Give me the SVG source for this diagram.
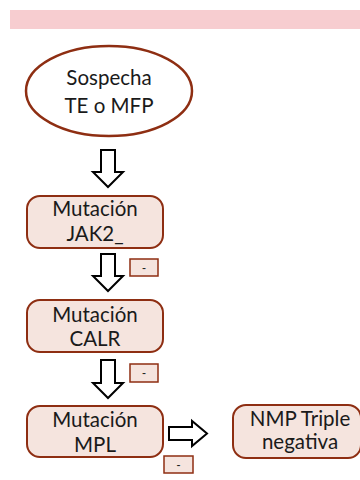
<svg xmlns="http://www.w3.org/2000/svg" width="360" height="480" viewBox="0 0 360 480">
<style>
.box{fill:#f5e4de;stroke:#8e2e12;stroke-width:2}
.tag{fill:#f5e4de;stroke:#8e2e12;stroke-width:1.5}
.t{font-family:"Lato","Liberation Sans",sans-serif;font-size:20.5px;fill:#1a1a1a;text-anchor:middle}
.s{font-family:"Liberation Sans",sans-serif;font-size:12px;fill:#222;text-anchor:middle}
.arr{fill:#fff;stroke:#000;stroke-width:2;stroke-linejoin:miter}
</style>
<rect x="10" y="10" width="350" height="19" fill="#f7cdd0"/>
<g id="n0">
<ellipse cx="109" cy="91" rx="83" ry="45" fill="#fff" stroke="#8e2e12" stroke-width="2.5"/>
<text class="t" x="109" y="85">Sospecha</text>
<text class="t" x="109" y="113">TE o MFP</text>
</g>
<g id="n1">
<rect class="box" x="27" y="196" width="136" height="52" rx="13"/>
<text class="t" x="95" y="216">Mutación</text>
<text class="t" x="95" y="241">JAK2_</text>
</g>
<g id="n2">
<rect class="box" x="27" y="300" width="136" height="52" rx="13"/>
<text class="t" x="95" y="322">Mutación</text>
<text class="t" x="95" y="346">CALR</text>
</g>
<g id="n3">
<rect class="box" x="27" y="406" width="136" height="51" rx="13"/>
<text class="t" x="95" y="427">Mutación</text>
<text class="t" x="95" y="452">MPL</text>
</g>
<g id="n4">
<rect class="box" x="233" y="405" width="128" height="53" rx="13"/>
<text class="t" x="300" y="426">NMP Triple</text>
<text class="t" x="300" y="449">negativa</text>
</g>
<g id="connectors">
<path class="arr" d="M101,150 H115 V172 H123 L108,187 L93,172 H101 Z"/>
<path class="arr" d="M101,254 H115 V276 H123 L108,291 L93,276 H101 Z"/>
<path class="arr" d="M101,360 H115 V383 H123 L108,398 L93,383 H101 Z"/>
<path class="arr" d="M169,427 H192 V421 L207,433.5 L192,446 V440 H169 Z"/>
<rect class="tag" x="130" y="259" width="28" height="17"/>
<text class="s" x="144" y="272">-</text>
<rect class="tag" x="130" y="364" width="28" height="18"/>
<text class="s" x="144" y="377">-</text>
<rect class="tag" x="164" y="456" width="29" height="17"/>
<text class="s" x="178.5" y="469">-</text>
</g>
</svg>
